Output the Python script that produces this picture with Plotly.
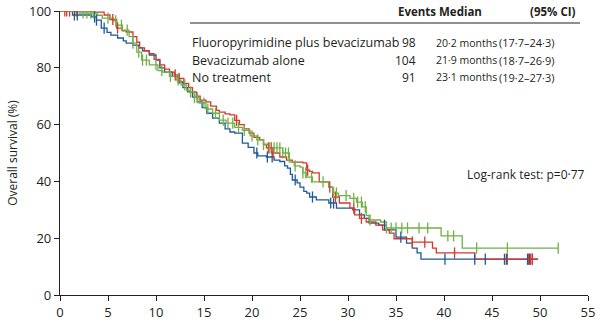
import numpy as np
import plotly.graph_objects as go

# Kaplan-Meier step curves: (months, overall survival %)
blue_t = [0, 1.3, 3.3, 3.8, 4.3, 4.9, 5.3, 6.0, 6.6, 6.9, 7.6, 8.2, 8.6, 9.3, 10.0, 10.4, 10.9,
          11.7, 12.3, 12.8, 13.3, 13.8, 14.3, 14.8, 15.3, 15.9, 16.6, 17.2, 17.7, 18.2, 19.0,
          19.6, 20.2, 20.6, 21.5, 22.3, 22.9, 23.4, 23.7, 24.0, 24.2, 24.7, 25.0, 25.4, 25.7,
          26.0, 26.7, 28.0, 28.8, 30.5, 31.2, 31.7, 32.2, 33.2, 34.0, 35.0, 36.1, 36.7, 37.2,
          37.6, 49.8]
blue_s = [100, 98.6, 97.9, 96.8, 94, 92.5, 91.5, 90.5, 89.5, 88.7, 88, 87, 86, 84.5, 82.7, 80,
          78.5, 77, 75, 73, 71.5, 69.7, 68, 66, 64, 62.3, 60.5, 58.5, 57.4, 57, 53.5, 52, 50,
          49, 48.6, 47.5, 47, 45.5, 44.7, 42.5, 40.5, 39.5, 38, 36.5, 35.9, 34.5, 33.5, 32.4,
          30.6, 30, 28.2, 27, 25.3, 24.6, 22.9, 20.4, 18.3, 16.5, 14.8, 12.6, 12.6]

red_t = [0, 3.6, 4.6, 5.2, 5.9, 6.5, 6.9, 7.6, 8.0, 8.3, 8.8, 9.3, 9.8, 10.4, 10.9, 11.4, 11.9,
         12.4, 12.9, 13.4, 13.8, 14.2, 14.6, 15.2, 15.7, 16.3, 16.6, 17.2, 17.7, 18.2, 18.7,
         19.2, 19.7, 20.2, 20.8, 21.2, 21.5, 22.2, 22.9, 23.6, 24.2, 25.3, 25.7, 26.0, 26.3,
         27.0, 28.0, 28.4, 29.1, 30.2, 30.7, 31.2, 31.9, 32.9, 33.6, 34.3, 34.8, 36.7, 38.8,
         39.2, 43.2, 49.8]
red_s = [100, 99.6, 98.6, 97, 94, 93, 92.6, 91, 89, 87, 86, 85, 83, 81, 79.5, 78.5, 77.5, 76.3,
         74.5, 73, 71.5, 70, 68.6, 68, 66.5, 65, 64.4, 63.8, 63.4, 61.5, 60, 58.5, 57, 55.5,
         54.6, 53, 51.8, 50, 48.6, 47.5, 46.8, 46.5, 44, 43.5, 43, 39.8, 38, 34.5, 32.4, 30.6,
         28.2, 27, 25.7, 24.6, 22.9, 21.8, 19.8, 18.6, 16.5, 14.8, 12.6, 12.6]

green_t = [0, 2.0, 3.9, 4.4, 5.5, 5.9, 6.5, 7.2, 7.6, 8.0, 8.5, 9.3, 10.2, 10.7, 11.4, 12.1,
           12.6, 13.2, 13.5, 14.0, 14.5, 15.2, 15.9, 16.6, 17.3, 18.2, 19.0, 19.8, 20.5, 21.2,
           21.8, 23.2, 23.9, 24.4, 25.0, 25.3, 25.7, 26.3, 28.0, 28.4, 29.0, 30.2, 30.9, 31.5,
           31.9, 32.2, 33.4, 34.0, 39.7, 41.9, 51.9]
green_s = [100, 99.3, 98.5, 97.5, 96.5, 95, 93.3, 91, 88.7, 85.5, 82.7, 81, 79, 78.5, 77, 75.7,
           74, 72, 71.5, 69.5, 67.6, 65.5, 64, 61.6, 60.5, 59, 58, 56, 54.6, 53, 51.8, 50, 46.8,
           45.5, 45, 43, 41.5, 39.8, 38, 35.9, 35, 34, 32.7, 31, 28, 26.4, 25.7, 23.6, 20.8,
           16.5, 16.5]

# Censoring times (months)
blue_c = [1.5, 1.8, 3.6, 3.8, 4.6, 20.5, 21.6, 22.1, 24.5, 26.3, 28.2, 28.5, 33.8, 35.5,
          40.1, 43.2, 44.3, 46.3, 46.5, 48.7, 48.9, 49.2]
red_c = [0.5, 0.7, 1.0, 1.7, 5.5, 6.0, 12.0, 12.4, 18.4, 21.7, 22.0, 22.2, 25.8, 28.1, 28.7,
         30.6, 31.4, 36.7, 38.0, 41.1, 46.6, 48.8, 49.0, 49.2]
green_c = [2.4, 2.8, 3.2, 3.5, 5.0, 5.8, 6.4, 7.0, 7.6, 8.2, 8.6, 9.0, 10.0, 10.6, 11.5, 12.3,
           13.0, 13.6, 14.0, 14.3, 15.0, 15.4, 16.2, 17.0, 17.5, 18.0, 18.6, 19.2, 20.0, 20.6,
           21.2, 21.8, 22.3, 22.6, 22.9, 23.2, 23.5, 23.8, 24.5, 25.3, 25.6, 26.2, 27.4, 28.5,
           28.8, 29.8, 30.6, 31.0, 31.4, 31.8, 32.3, 34.0, 34.5, 35.0, 35.6, 36.2, 37.4, 38.3,
           40.4, 41.0, 43.4, 46.6, 51.9]

BLUE = "#1d5a98"
RED = "#d8372c"
GREEN = "#71b146"

# Legend table
arms = ["Fluoropyrimidine plus bevacizumab", "Bevacizumab alone", "No treatment"]
events = ["98", "104", "91"]
medians = ["20·2 months", "21·9 months", "23·1 months"]
cis = ["(17·7–24·3)", "(18·7–26·9)", "(19·2–27·3)"]
logrank = "Log-rank test: p=0·77"

# Plot area in pixels (left, right, top, bottom)
L, R, T, B = 60, 588, 11, 295
W_PX, H_PX = 603, 323


def px_x(p):
    return (p - L) / (R - L)


def px_y(p):
    return (B - p) / (B - T)


def surv_at(times, surv, c):
    t = np.asarray(times)
    s = np.asarray(surv)
    idx = np.searchsorted(t, np.asarray(c), side="right") - 1
    return s[idx]


fig = go.Figure()
curves = [(blue_t, blue_s, blue_c, BLUE),
          (red_t, red_s, red_c, RED),
          (green_t, green_s, green_c, GREEN)]
for t, s, c, col in curves:
    fig.add_trace(go.Scatter(x=t, y=s, mode="lines", line=dict(color=col, width=1.3, shape="hv"),
                             hoverinfo="skip", showlegend=False))
for t, s, c, col in curves:
    fig.add_trace(go.Scatter(x=c, y=surv_at(t, s, c), mode="markers",
                             marker=dict(symbol="line-ns", size=8,
                                         line=dict(color=col, width=1.3)),
                             hoverinfo="skip", showlegend=False))

FONT = "Open Sans, Noto Sans, sans-serif"
TXT = "#231f20"

ann = []
row_y = [43, 60, 77]
head_y = 12


def add_text(xp, yp, text, anchor, size):
    ann.append(dict(x=px_x(xp), y=px_y(yp), text=text, xanchor=anchor, yanchor="middle",
                    xref="paper", yref="paper", showarrow=False,
                    font=dict(family=FONT, size=size, color=TXT)))


add_text(396, head_y, "<b>Events</b>", "left", 11.5)
add_text(437, head_y, "<b>Median</b>", "left", 11.5)
add_text(528, head_y, "<b>(95% CI)</b>", "left", 11.5)
for i in range(3):
    add_text(190, row_y[i], arms[i], "left", 12.5)
    add_text(418, row_y[i], events[i], "right", 12)
    add_text(434, row_y[i], medians[i], "left", 10.5)
    add_text(497, row_y[i], cis[i], "left", 11)
add_text(587, 174, logrank, "right", 12)

fig.update_layout(
    width=W_PX, height=H_PX,
    margin=dict(l=L, r=W_PX - R, t=T, b=H_PX - B, autoexpand=False),
    paper_bgcolor="white", plot_bgcolor="white",
    annotations=ann,
    shapes=[dict(type="line", xref="paper", yref="paper", x0=px_x(190), x1=px_x(580),
                 y0=px_y(23), y1=px_y(23), line=dict(color=TXT, width=1))],
    font=dict(family=FONT, size=12, color=TXT),
)
fig.update_xaxes(range=[0, 55], tickvals=list(range(0, 56, 5)), showline=True,
                 linecolor=TXT, linewidth=1.2, ticks="outside", ticklen=5, tickcolor=TXT,
                 showgrid=False, zeroline=False, tickfont=dict(size=13))
fig.update_yaxes(range=[0, 100], tickvals=list(range(0, 101, 20)), showline=True,
                 linecolor=TXT, linewidth=1.2, ticks="outside", ticklen=5, tickcolor=TXT,
                 showgrid=False, zeroline=False, tickfont=dict(size=13),
                 title=dict(text="Overall survival (%)", standoff=8, font=dict(size=12)))

fig.write_html("out.html")
